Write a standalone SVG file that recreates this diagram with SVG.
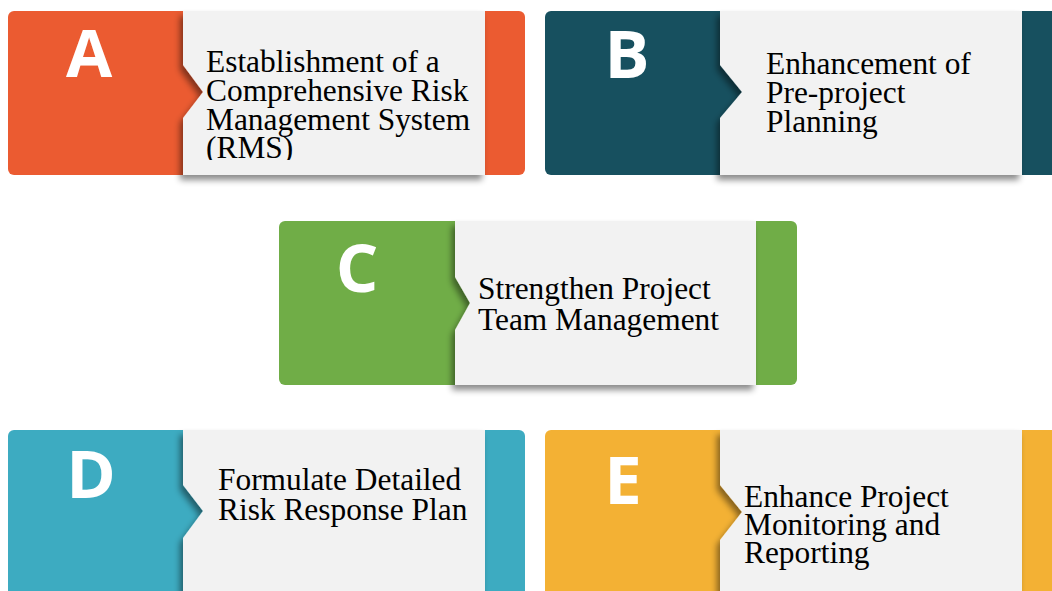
<svg xmlns="http://www.w3.org/2000/svg" width="1052" height="591" viewBox="0 0 1052 591">
<defs>
<filter id="sh" x="-10%" y="-10%" width="120%" height="125%">
<feDropShadow dx="-3" dy="5" stdDeviation="3" flood-color="#000" flood-opacity="0.45"/>
</filter>
<clipPath id="clipA"><rect x="183" y="11" width="302" height="149"/></clipPath>
</defs>
<style>
.panel{fill:#F2F2F2;filter:url(#sh)}
.letter{font-family:"Open Sans","DejaVu Sans",sans-serif;font-weight:bold;font-size:67px;fill:#FFFFFF;text-anchor:middle}
.txt{font-family:"Liberation Serif","Times New Roman",serif;font-size:31.4px;fill:#000000}
.a{fill:#EB5B31}.b{fill:#17505F}.c{fill:#70AD47}.d{fill:#3DABC1}.e{fill:#F3B134}
</style>
<rect width="1052" height="591" fill="#FFFFFF"/>
<g id="nodeA">
<rect class="a" x="8" y="11" width="517" height="164" rx="6"/>
<path class="panel" d="M183,11 H485 V175 H183 V118 L203,92 L183,65 Z"/>
<text class="letter" x="89" y="77">A</text>
<g clip-path="url(#clipA)">
<text class="txt"><tspan x="206" y="72">Establishment of a</tspan><tspan x="206" y="101">Comprehensive Risk</tspan><tspan x="206" y="130">Management System</tspan><tspan x="206" y="158">(RMS)</tspan></text>
</g>
</g>
<g id="nodeB">
<rect class="b" x="545" y="11" width="517" height="164" rx="6"/>
<path class="panel" d="M720,11 H1022 V175 H720 V118 L742,92 L720,65 Z"/>
<text class="letter" x="627" y="78">B</text>
<text class="txt"><tspan x="766" y="74">Enhancement of</tspan><tspan x="766" y="103">Pre-project</tspan><tspan x="766" y="132">Planning</tspan></text>
</g>
<g id="nodeC">
<rect class="c" x="279" y="221" width="518" height="164" rx="6"/>
<path class="panel" d="M455,221 H756 V385 H455 V330 L470,303 L455,277 Z"/>
<text class="letter" x="357" y="292">C</text>
<text class="txt"><tspan x="478" y="299">Strengthen Project</tspan><tspan x="478" y="330">Team Management</tspan></text>
</g>
<g id="nodeD">
<rect class="d" x="8" y="430" width="517" height="175" rx="6"/>
<path class="panel" d="M183,430 H485 V605 H183 V538 L203,511 L183,485 Z"/>
<text class="letter" x="91" y="498">D</text>
<text class="txt"><tspan x="218" y="490">Formulate Detailed</tspan><tspan x="218" y="520">Risk Response Plan</tspan></text>
</g>
<g id="nodeE">
<rect class="e" x="545" y="430" width="517" height="175" rx="6"/>
<path class="panel" d="M720,430 H1022 V605 H720 V540 L742,512 L720,485 Z"/>
<text class="letter" x="623" y="504">E</text>
<text class="txt"><tspan x="744" y="507">Enhance Project</tspan><tspan x="744" y="535">Monitoring and</tspan><tspan x="744" y="563">Reporting</tspan></text>
</g>
<g id="connectors"></g>
</svg>
